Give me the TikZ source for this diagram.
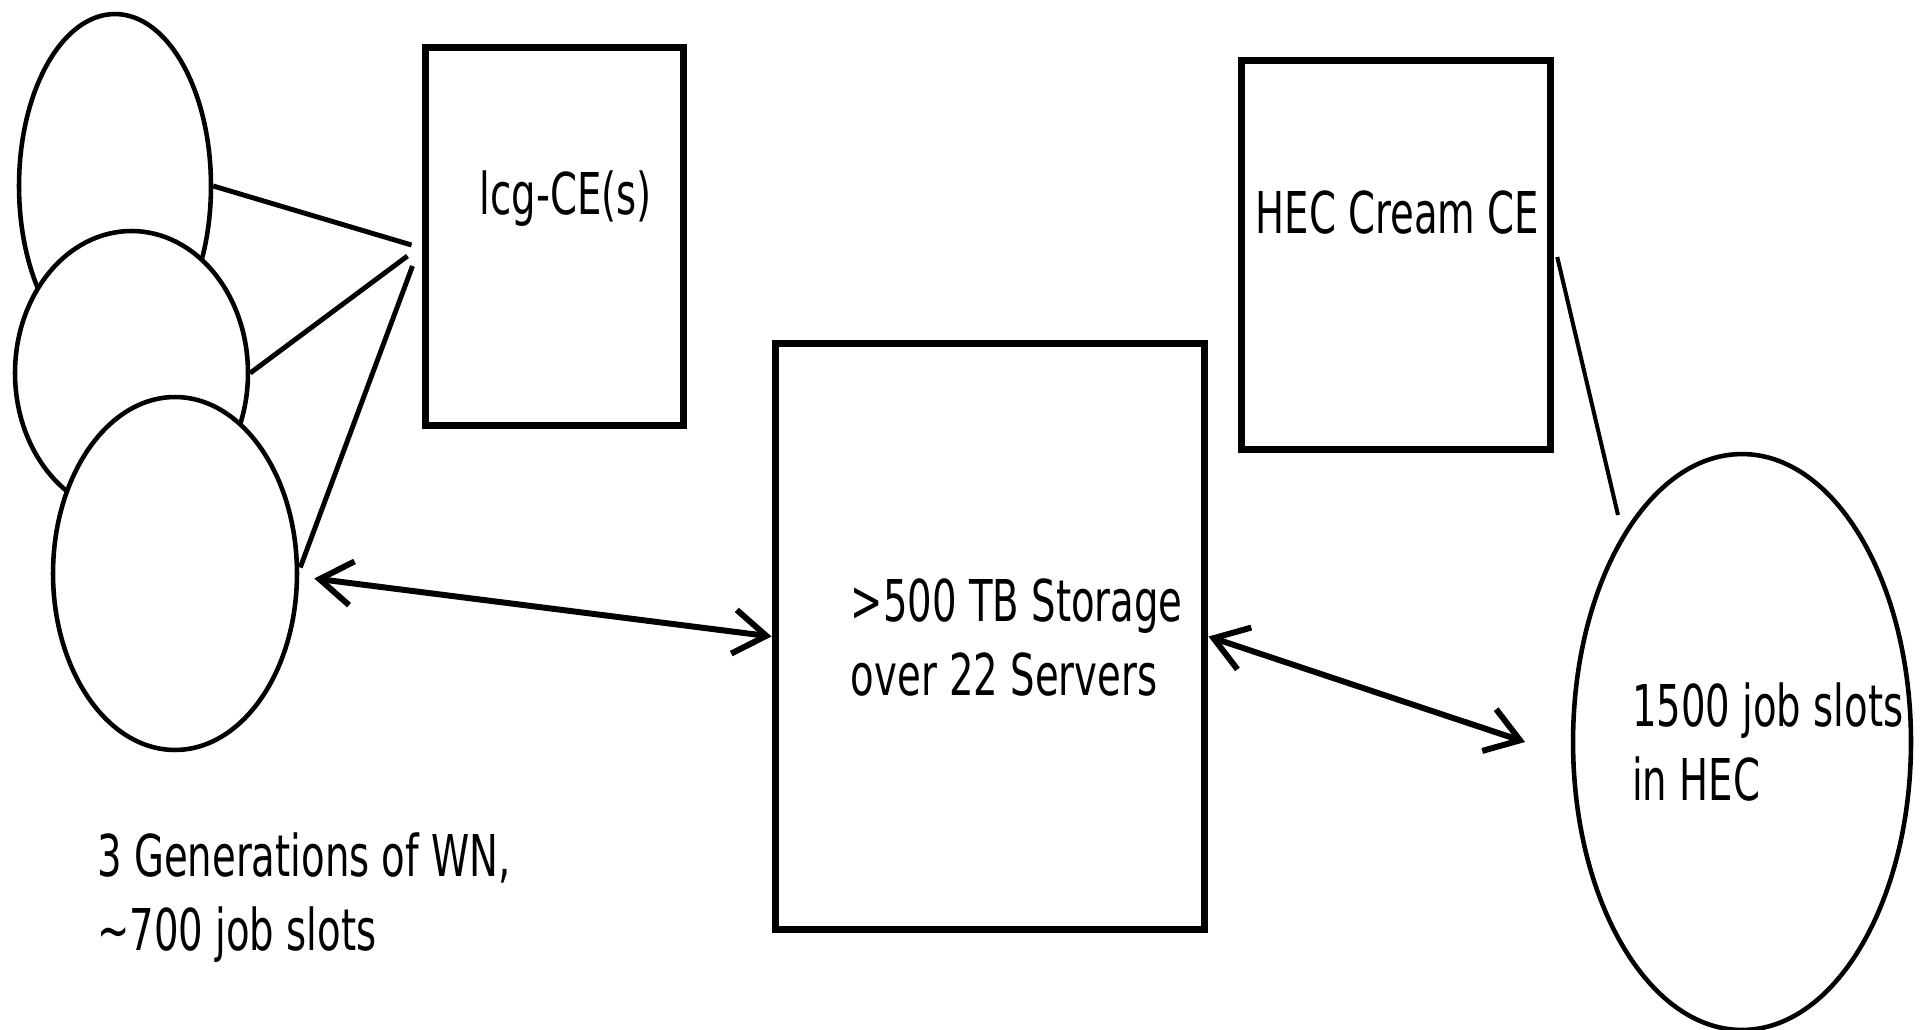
\documentclass[tikz,border=0pt]{standalone}
\usepackage{fontspec}
\newfontfamily\diagfont[FakeStretch=0.67]{DejaVu Sans}
\usetikzlibrary{arrows.meta,calc,shapes.geometric}

\begin{document}
\begin{tikzpicture}[
    x=0.02cm, y=-0.02cm,
    every node/.style={font=\diagfont\fontsize{32.8}{42.1}\selectfont},
    box/.style={draw=black, line width=4pt, rectangle, inner sep=0pt, fill=white},
    wn/.style={draw=black, line width=2.6pt, ellipse, inner sep=0pt, fill=white},
    txt/.style={inner sep=0pt, align=left, anchor=base west},
    link/.style={line width=2.8pt},
    arrow/.style={{Straight Barb[length=6.5mm,width=8.8mm]}-{Straight Barb[length=6.5mm,width=8.8mm]},
                line width=3.4pt}
]
  \useasboundingbox (0,0) rectangle (1922,1030);

  % --- Worker node generations (stacked, later ones on top) ---
  \node[wn, minimum width=3.84cm, minimum height=6.88cm] (wnA) at (115,186) {};
  \node[wn, minimum width=4.66cm, minimum height=5.68cm] (wnB) at (131.5,373) {};
  \node[wn, minimum width=4.88cm, minimum height=7.06cm] (wnC) at (175,573.5) {};

  % --- Boxes ---
  \node[box, minimum width=5.18cm, minimum height=7.58cm] (lcg)   at (554.5,236.5) {};
  \node[box, minimum width=8.6cm,  minimum height=11.74cm] (store) at (990,636.5) {};
  \node[box, minimum width=6.19cm, minimum height=7.77cm] (cream) at (1396,255) {};

  % --- HEC job slots ---
  \node[wn, minimum width=6.76cm, minimum height=11.52cm] (hecslots) at (1742,742) {};

  % --- Texts (base = last line) ---
  \node[txt] (lcgtxt)   at ([shift={(58,171)}]lcg.north west) {lcg-CE(s)};
  \node[txt] (creamtxt) at ([shift={(17.5,176)}]cream.north west) {HEC Cream CE};
  \node[txt] (storetxt) at ([shift={(79,356)}]store.north west) {>500 TB Storage\\over 22 Servers};
  \node[txt] (slotstxt) at ([shift={(61,58)}]hecslots.west) {1500 job slots\\in HEC};
  \node[txt] (wntxt)    at ([shift={(-78,198)}]wnC.south) {3 Generations of WN,\\\textasciitilde700 job slots};

  % --- WN -> lcg-CE links ---
  \coordinate (lcginA) at ([shift={(-10,8.5)}]lcg.west);
  \coordinate (lcginB) at ([shift={(-14,19.5)}]lcg.west);
  \coordinate (lcginC) at ([shift={(-9,29.5)}]lcg.west);
  \draw[link] (wnA.east) -- (lcginA);
  \draw[link] (wnB.east) -- (lcginB);
  \draw[link] ([shift={(1,-6)}]wnC.east) -- (lcginC);

  % --- Cream CE -> job slots ---
  \coordinate (slotsin) at ([shift={(-124,-227)}]hecslots.center);
  \draw[line width=2.3pt] ([shift={(3,2)}]cream.east) -- (slotsin);

  % --- Storage arrows ---
  \draw[arrow] ([shift={(15,5)}]wnC.east) -- (store.west);
  \draw[arrow] (store.east) -- ([xshift=-26]hecslots.west);
\end{tikzpicture}
\end{document}
